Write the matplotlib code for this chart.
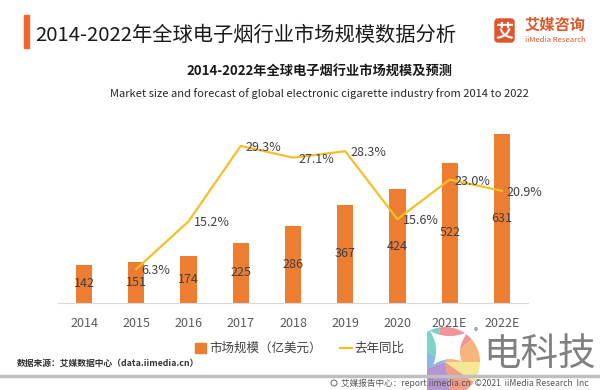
import matplotlib
matplotlib.use('Agg')
import matplotlib.pyplot as plt
from matplotlib.patches import Rectangle, Wedge, Polygon, FancyBboxPatch, Circle
import numpy as np

# ---- data ----
years = ['2014', '2015', '2016', '2017', '2018', '2019', '2020', '2021E', '2022E']
market = [142, 151, 174, 225, 286, 367, 424, 522, 631]
growth_years = years[1:]
growth = [6.3, 15.2, 29.3, 27.1, 28.3, 15.6, 23.0, 20.9]

title = '2014-2022年全球电子烟行业市场规模数据分析'
sub_cn = '2014-2022年全球电子烟行业市场规模及预测'
sub_en = 'Market size and forecast of global electronic cigarette industry from 2014 to 2022'
legend_bar = '市场规模（亿美元）'
legend_line = '去年同比'
source = '数据来源：艾媒数据中心（data.iimedia.cn）'
footer = '艾媒报告中心：report.iimedia.cn  ©2021  iiMedia Research  Inc'

plt.rcParams['font.family'] = ['Noto Sans CJK SC', 'DejaVu Sans']

W, H = 600, 390
fig = plt.figure(figsize=(6, 3.9), dpi=100)
fig.patch.set_facecolor('white')

BAR_C = '#ED7D31'
LINE_C = '#F5BF2A'
TXT_C = '#404040'

ax_left, ax_right, ax_top, ax_bottom = 58, 528, 125, 302.7
ax = fig.add_axes([ax_left / W, 1 - ax_bottom / H, (ax_right - ax_left) / W, (ax_bottom - ax_top) / H])
x = np.arange(len(years))
ax.bar(x, market, width=0.31, color=BAR_C, zorder=2)
ax.set_xlim(-0.5, 8.5)
ax.set_ylim(0, 665)
for s in ['top', 'right', 'left']:
    ax.spines[s].set_visible(False)
ax.spines['bottom'].set_color('#D9D9D9')
ax.set_yticks([])
ax.set_xticks(x)
ax.set_xticklabels(years, fontsize=9, color='#595959')
ax.tick_params(axis='x', length=0, pad=10.5)
for xi, v in zip(x, market):
    ax.text(xi, v / 2, str(v), ha='center', va='center', fontsize=9, color=TXT_C, zorder=4)

ax2 = ax.twinx()
ax2.set_ylim(0, 33.2)
ax2.axis('off')
gx = [years.index(y) for y in growth_years]
ax2.plot(gx, growth, color=LINE_C, lw=1.6, zorder=3)
for xi, g in zip(gx, growth):
    ax2.annotate(f'{g:.1f}%', (xi, g), xytext=(5, -1.5), textcoords='offset pixels',
                 ha='left', va='center', fontsize=9, color=TXT_C)

# ---- overlay for decorations ----
ov = fig.add_axes([0, 0, 1, 1], zorder=10)
ov.set_xlim(0, W)
ov.set_ylim(H, 0)
ov.axis('off')
ov.patch.set_alpha(0)

ov.add_patch(Rectangle((24, 15), 5, 33, color='#F0642D'))
ov.text(35, 35, title, fontsize=14.6, va='center', ha='left', color='#1a1a1a')

# logo
LOGO_C = '#E0562B'
ov.add_patch(FancyBboxPatch((495, 19), 19, 23, boxstyle='round,pad=0,rounding_size=3', color=LOGO_C))
ov.text(504.5, 30.5, '艾', fontsize=13, color='white', ha='center', va='center', weight='bold')
ov.text(525, 25, '艾媒咨询', fontsize=11, color=LOGO_C, va='center', ha='left', weight='bold')
ov.text(525, 40, 'iiMedia Research', fontsize=5.5, color=LOGO_C, va='center', ha='left')

# subtitles
ov.text(319, 72, sub_cn, fontsize=9.5, weight='bold', ha='center', va='center', color='#1a1a1a')
ov.text(319, 94, sub_en, fontsize=8, ha='center', va='center', color='#262626')

# legend
ov.add_patch(Rectangle((195, 343), 11, 10, color=BAR_C))
ov.text(209, 348, legend_bar, fontsize=9, va='center', ha='left', color=TXT_C)
ov.plot([340, 352], [348, 348], color=LINE_C, lw=1.6)
ov.text(354, 348, legend_line, fontsize=9, va='center', ha='left', color=TXT_C)

# source and footer
ov.text(17, 363, source, fontsize=6.3, weight='bold', color='#333333', va='center', ha='left')
ov.plot([0, 600], [376, 376], color='#BFBFBF', lw=2.5)
ov.add_patch(Circle((334, 383), 3, fill=False, ec='#666666', lw=0.7))
ov.text(589, 383, footer, fontsize=6.2, ha='right', va='center', color='#555555')

# watermark logo
clip = Rectangle((427, 327), 60, 70, transform=ov.transData, visible=False)
ov.add_patch(clip)
cx, cy, r = 445, 362, 35
wedges = [(100, 150, '#5CC8B8'), (40, 100, '#EE7B82'), (0, 40, '#F4A35A'),
          (-35, 0, '#F3E27A'), (-80, -35, '#EE8366'), (200, 280, '#A07CC4'),
          (150, 200, '#6AA8DC')]
for a1, a2, c in wedges:
    w = Wedge((cx, cy), r, -a2, -a1, color=c, alpha=0.8, lw=0)
    ov.add_patch(w)
    w.set_clip_path(clip)
corners = [(430, 331), (468, 332), (462, 362), (433, 365)]
ctr = (448, 348)
pts = []
t = np.linspace(0, 1, 12)
for i in range(4):
    p0 = np.array(corners[i]); p2 = np.array(corners[(i + 1) % 4])
    mid = (p0 + p2) / 2
    p1 = mid + 0.55 * (np.array(ctr) - mid)
    for tt in t[:-1]:
        pts.append((1 - tt) ** 2 * p0 + 2 * (1 - tt) * tt * p1 + tt ** 2 * p2)
ov.add_patch(Polygon(pts, closed=True, color='white', lw=0))
ov.text(476, 332, '®', fontsize=6, color='#777777', ha='center', va='center')
ov.text(540, 354, '电科技', fontsize=27, color='#808080', ha='center', va='center')

fig.savefig('out.png', dpi=100, facecolor='white')
